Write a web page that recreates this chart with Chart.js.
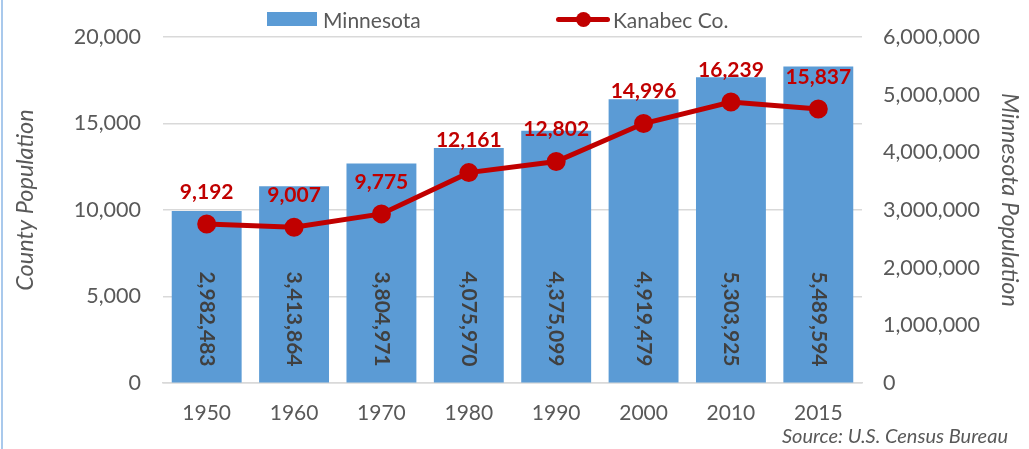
<!DOCTYPE html>
<html>
<head>
<meta charset="utf-8">
<script src="https://cdn.jsdelivr.net/npm/chart.js@4/dist/chart.umd.min.js"></script>
<style>
  html, body { margin: 0; padding: 0; background: #fff; }
  #wrap { position: relative; width: 1029px; height: 449px; overflow: hidden; }
  #frame { position: absolute; left: 1px; top: 0; width: 2px; height: 449px; background: #a9c9ec; }
  #legend { position: absolute; top: 0; left: 0; width: 1029px; height: 37px; font-family: Lato, "Open Sans", sans-serif; font-size: 21px; color: #595959; }
  .item { position: absolute; top: 6px; height: 26px; display: flex; align-items: center; }
  .swatch { width: 50px; height: 14px; margin-right: 6px; }
  .lineglyph { position: relative; width: 54px; height: 15px; margin-right: 3px; }
  .lineglyph .ln { position: absolute; left: 0; right: 0; top: 5px; height: 5px; border-radius: 3px; }
  .lineglyph .dot { position: absolute; left: 20px; top: 0; width: 15px; height: 15px; border-radius: 50%; }
  #source { position: absolute; right: 21px; top: 423px; font-family: Lato, "Open Sans", sans-serif; font-style: italic; font-size: 20px; color: #595959; }
</style>
</head>
<body>
<div id="wrap">
  <canvas id="c" width="1029" height="449"></canvas>
  <div id="frame"></div>
  <div id="legend"></div>
  <div id="source">Source: U.S. Census Bureau</div>
</div>
<script>
const years = ["1950", "1960", "1970", "1980", "1990", "2000", "2010", "2015"];
const minnesotaPop = [2982483, 3413864, 3804971, 4075970, 4375099, 4919479, 5303925, 5489594];
const kanabecPop = [9192, 9007, 9775, 12161, 12802, 14996, 16239, 15837];
const countyTicks = [0, 5000, 10000, 15000, 20000];
const stateTicks = [0, 1000000, 2000000, 3000000, 4000000, 5000000, 6000000];
const axisTitles = { yCounty: 'County Population', yState: 'Minnesota Population' };

const BLUE = '#5B9BD5';
const RED = '#C00000';
const GRAY = '#595959';
const FONT = 'Lato, "Open Sans", sans-serif';
const fmt = v => Number(v).toLocaleString('en-US');

const labelPlugin = {
  id: 'valueLabels',
  afterDatasetsDraw(chart) {
    const ctx = chart.ctx;
    chart.data.datasets.forEach((ds, i) => {
      const meta = chart.getDatasetMeta(i);
      meta.data.forEach((el, j) => {
        const txt = fmt(ds.data[j]);
        ctx.save();
        ctx.font = 'bold 21px ' + FONT;
        if (ds.type === 'bar') {
          ctx.fillStyle = '#404040';
          ctx.translate(el.x, el.base - 16);
          ctx.rotate(Math.PI / 2);
          ctx.textAlign = 'right';
          ctx.textBaseline = 'middle';
          ctx.fillText(txt, 0, 0);
        } else {
          ctx.fillStyle = RED;
          ctx.textAlign = 'center';
          ctx.textBaseline = 'middle';
          ctx.fillText(txt, el.x, el.y - 32);
        }
        ctx.restore();
      });
    });
  }
};

// axis titles, centred slightly above the middle of the plot like the original
const titlePlugin = {
  id: 'axisTitles',
  afterDraw(chart) {
    const ctx = chart.ctx;
    const area = chart.chartArea;
    const midY = (area.top + area.bottom) / 2 - 10;
    ctx.save();
    ctx.font = 'italic 23.5px ' + FONT;
    ctx.fillStyle = GRAY;
    ctx.textAlign = 'center';
    ctx.textBaseline = 'middle';
    const l = chart.scales.yCounty;
    ctx.save();
    ctx.translate(l.left + 25, midY);
    ctx.rotate(-Math.PI / 2);
    ctx.fillText(axisTitles.yCounty, 0, 0);
    ctx.restore();
    const r = chart.scales.yState;
    ctx.save();
    ctx.translate(r.right - 19, midY);
    ctx.rotate(Math.PI / 2);
    ctx.fillText(axisTitles.yState, 0, 0);
    ctx.restore();
    ctx.restore();
  }
};

const chart = new Chart(document.getElementById('c'), {
  data: {
    labels: years,
    datasets: [
      {
        type: 'line', label: 'Kanabec Co.', data: kanabecPop, yAxisID: 'yCounty',
        borderColor: RED, backgroundColor: RED, borderWidth: 5,
        pointRadius: 7, pointHoverRadius: 7, pointBackgroundColor: RED, pointBorderColor: RED,
        tension: 0, order: 0
      },
      {
        type: 'bar', label: 'Minnesota', data: minnesotaPop, yAxisID: 'yState',
        backgroundColor: BLUE, borderWidth: 0,
        categoryPercentage: 1.0, barPercentage: 0.8, order: 1
      }
    ]
  },
  options: {
    responsive: false,
    animation: false,
    layout: { padding: { top: 37, bottom: 0, left: 0, right: 0 } },
    plugins: { legend: { display: false }, tooltip: { enabled: false } },
    scales: {
      x: {
        grid: { display: false, drawTicks: false },
        border: { display: true, color: '#D9D9D9', width: 1.5 },
        ticks: { color: GRAY, font: { family: FONT, size: 21 }, padding: 18 },
        afterFit(s) { s.height = 66; }
      },
      yCounty: {
        position: 'left', min: 0, max: 20000,
        afterBuildTicks(s) { s.ticks = countyTicks.map(v => ({ value: v })); },
        grid: { color: '#D9D9D9', lineWidth: 1.5, drawTicks: false },
        border: { display: false },
        ticks: { color: GRAY, font: { family: FONT, size: 21.5 }, padding: 22, callback: v => fmt(v) },
        afterFit(s) { s.width = 163; }
      },
      yState: {
        position: 'right', min: 0, max: 6000000,
        afterBuildTicks(s) { s.ticks = stateTicks.map(v => ({ value: v })); },
        grid: { drawOnChartArea: false, drawTicks: false },
        border: { display: false },
        ticks: { color: GRAY, font: { family: FONT, size: 21.5 }, padding: 21, callback: v => fmt(v) },
        afterFit(s) { s.width = 167; }
      }
    }
  },
  plugins: [labelPlugin, titlePlugin]
});

// HTML legend built from the dataset styles
const legend = document.getElementById('legend');
const legendOrder = [1, 0];
const legendLeft = [267, 556];
legendOrder.forEach((idx, k) => {
  const ds = chart.data.datasets[idx];
  const item = document.createElement('div');
  item.className = 'item';
  item.style.left = legendLeft[k] + 'px';
  if (ds.type === 'bar') {
    const sw = document.createElement('span');
    sw.className = 'swatch';
    sw.style.background = ds.backgroundColor;
    item.appendChild(sw);
  } else {
    const g = document.createElement('span');
    g.className = 'lineglyph';
    const ln = document.createElement('span'); ln.className = 'ln'; ln.style.background = ds.borderColor;
    const dot = document.createElement('span'); dot.className = 'dot'; dot.style.background = ds.pointBackgroundColor;
    g.appendChild(ln); g.appendChild(dot);
    item.appendChild(g);
  }
  const t = document.createElement('span');
  t.textContent = ds.label;
  item.appendChild(t);
  legend.appendChild(item);
});
</script>
</body>
</html>
